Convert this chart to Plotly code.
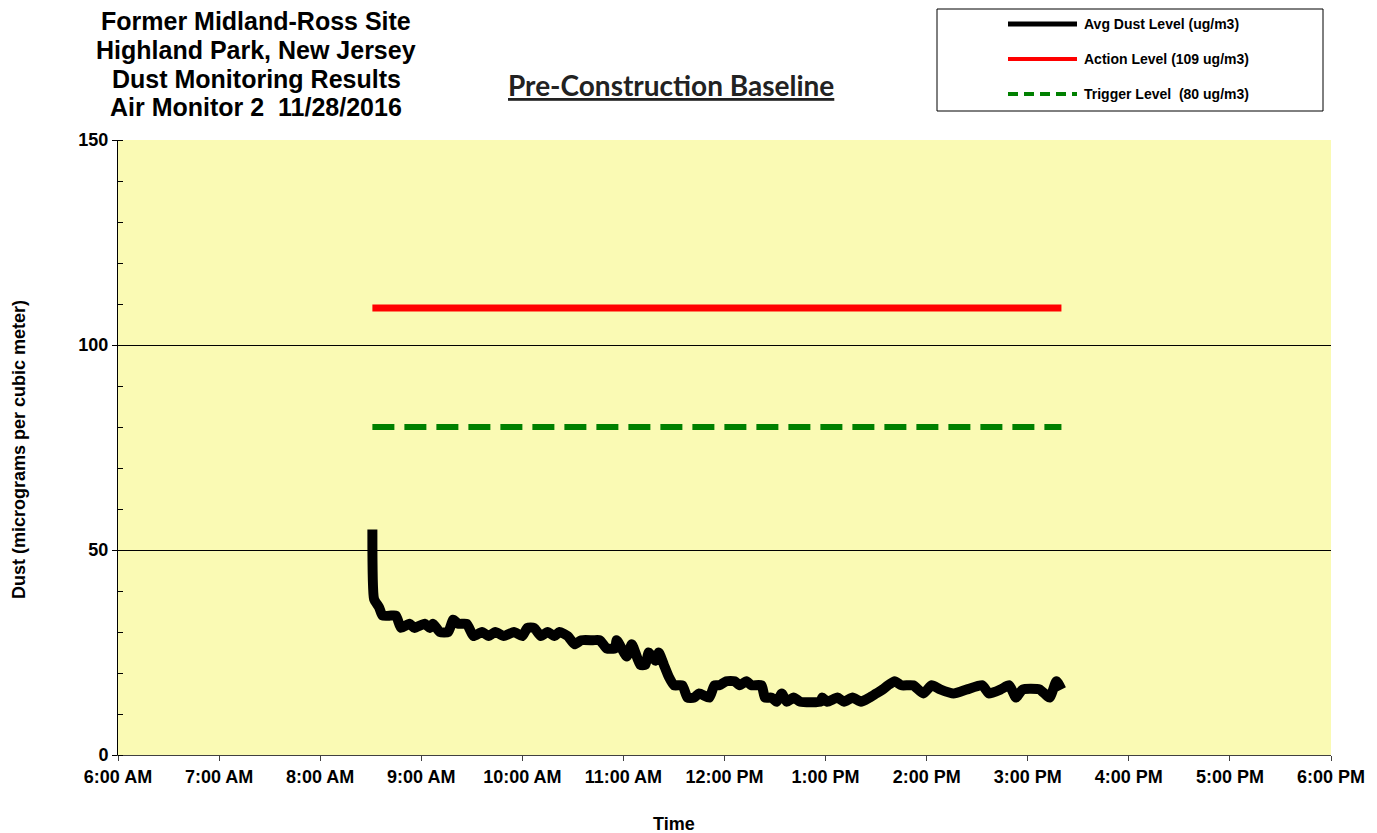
import plotly.graph_objects as go

# dust readings, Air Monitor 2, 11/28/2016
times = [
    "08:31", "08:32", "08:35", "08:37", "08:42", "08:45", "08:48", "08:53", "08:56",
    "09:02", "09:05", "09:07", "09:11", "09:16", "09:19", "09:22", "09:27", "09:31",
    "09:36", "09:40", "09:44", "09:49", "09:55", "10:00", "10:03", "10:07", "10:11",
    "10:15", "10:19", "10:22", "10:27", "10:31", "10:35", "10:42", "10:46", "10:50",
    "10:55", "10:56", "11:02", "11:05", "11:10", "11:13", "11:15", "11:19", "11:21",
    "11:24", "11:27", "11:30", "11:35", "11:38", "11:42", "11:45", "11:51", "11:54",
    "11:57", "12:01", "12:06", "12:09", "12:13", "12:16", "12:22", "12:24", "12:28",
    "12:31", "12:34", "12:37", "12:41", "12:45", "12:57", "12:58", "13:01", "13:07",
    "13:11", "13:16", "13:21", "13:26", "13:30", "13:34", "13:37", "13:41", "13:45",
    "13:52", "13:58", "14:03", "14:08", "14:16", "14:24", "14:33", "14:37", "14:44",
    "14:49", "14:53", "14:57", "15:07", "15:13", "15:17", "15:20",
]
dust = [
    55, 38, 36, 34, 34, 34, 31, 32, 31,
    32, 31, 32, 30, 30, 33, 32, 32, 29,
    30, 29, 30, 29, 30, 29, 31, 31, 29,
    30, 29, 30, 29, 27, 28, 28, 28, 26,
    26, 28, 24, 27, 22, 22, 25, 23, 25,
    22, 19, 17, 17, 14, 14, 15, 14, 17,
    17, 18, 18, 17, 18, 17, 17, 14, 14,
    13, 15, 13, 14, 13, 13, 14, 13, 14,
    13, 14, 13, 14, 15, 16, 17, 18, 17,
    17, 15, 17, 16, 15, 16, 17, 15, 16,
    17, 14, 16, 16, 14, 18, 16,
]
action_level = 109
trigger_level = 80
date = "2016-11-28"

x = [f"{date} {t}" for t in times]
span = [x[0], x[-1]]

fig = go.Figure()
fig.add_trace(go.Scatter(x=x, y=dust, mode="lines", name="Avg Dust Level (ug/m3)",
                         line=dict(color="black", width=10, shape="spline", smoothing=0.5)))
fig.add_trace(go.Scatter(x=span, y=[action_level] * 2, mode="lines",
                         name="Action Level (109 ug/m3)",
                         line=dict(color="#ff0000", width=7)))
fig.add_trace(go.Scatter(x=span, y=[trigger_level] * 2, mode="lines",
                         name="Trigger Level  (80 ug/m3)",
                         line=dict(color="#008000", width=6, dash="22px,10px")))

# the page adds an 8px body margin, so the figure is 8px smaller and everything
# below is given in screenshot pixels
OFF = 8
W, H = 1377 - OFF, 833 - OFF
L, T = 118 - OFF, 140 - OFF
R, B = 46, 78
PW, PH = W - L - R, H - T - B


def px(xp):
    return (xp - OFF - L) / PW


def py(yp):
    return (H - B - (yp - OFF)) / PH


bold = "Liberation Sans"
shapes = [dict(type="rect", xref="paper", yref="paper", x0=px(937), x1=px(1323),
               y0=py(111), y1=py(9), line=dict(color="black", width=1),
               fillcolor="white")]
annotations = []
legend_rows = [
    ("Avg Dust Level (ug/m3)", dict(color="black", width=5), 24),
    ("Action Level (109 ug/m3)", dict(color="#ff0000", width=4), 59),
    ("Trigger Level\u00a0\u00a0(80 ug/m3)", dict(color="#008000", width=4, dash="10px,6px"), 94),
]
for label, ln, yy in legend_rows:
    shapes.append(dict(type="line", xref="paper", yref="paper", x0=px(1008), x1=px(1077),
                       y0=py(yy), y1=py(yy), line=ln))
    annotations.append(dict(text=f"<b>{label}</b>", xref="paper", yref="paper",
                            x=px(1082), y=py(yy), xanchor="left", yanchor="middle",
                            showarrow=False, font=dict(family=bold, size=14, color="black")))

title_lines = ["Former Midland-Ross Site", "Highland Park, New Jersey",
               "Dust Monitoring Results", "Air Monitor 2\u00a0 11/28/2016"]
for i, t in enumerate(title_lines):
    annotations.append(dict(text=f"<b>{t}</b>", xref="paper", yref="paper",
                            x=px(256), y=py(21 + i * 28.8), xanchor="center", yanchor="middle",
                            showarrow=False, font=dict(family=bold, size=25, color="black")))

annotations.append(dict(text="<b><u>Pre-Construction Baseline</u></b>", xref="paper", yref="paper",
                        x=px(671), y=py(85), xanchor="center", yanchor="middle", showarrow=False,
                        font=dict(family="Lato", size=28, color="#222")))
annotations.append(dict(text="<b>Dust (micrograms per cubic meter)</b>", xref="paper", yref="paper",
                        x=px(19), y=py(450), textangle=-90, xanchor="center", yanchor="middle",
                        showarrow=False, font=dict(family=bold, size=18, color="black")))
annotations.append(dict(text="<b>Time</b>", xref="paper", yref="paper",
                        x=px(674), y=py(824), xanchor="center", yanchor="middle",
                        showarrow=False, font=dict(family=bold, size=18, color="black")))

fig.update_layout(
    width=W, height=H,
    margin=dict(l=L, r=R, t=T, b=B, pad=0),
    paper_bgcolor="white",
    plot_bgcolor="#fafab4",
    showlegend=False,
    shapes=shapes,
    annotations=annotations,
    font=dict(family=bold, size=18, color="black"),
)
fig.update_xaxes(
    type="date", range=[f"{date} 06:00", f"{date} 18:00"],
    dtick=3600000, tick0=f"{date} 06:00", tickformat="%-I:%M %p",
    showgrid=False, zeroline=False, showline=True, linecolor="#404040", linewidth=1,
    ticks="outside", ticklen=5, tickcolor="#404040",
    tickfont=dict(family=bold, size=18, color="black"), tickprefix="<b>", ticksuffix="</b>",
)
fig.update_yaxes(
    range=[0, 150], dtick=50, showgrid=True, gridcolor="black", gridwidth=1,
    zeroline=False, showline=True, linecolor="black", linewidth=1,
    ticks="outside", ticklen=5, tickcolor="black",
    minor=dict(dtick=10, ticks="inside", ticklen=5, tickcolor="black", showgrid=False),
    tickfont=dict(family=bold, size=18, color="black"), tickprefix="<b>", ticksuffix="</b>",
)

fig.write_html("out.html")
